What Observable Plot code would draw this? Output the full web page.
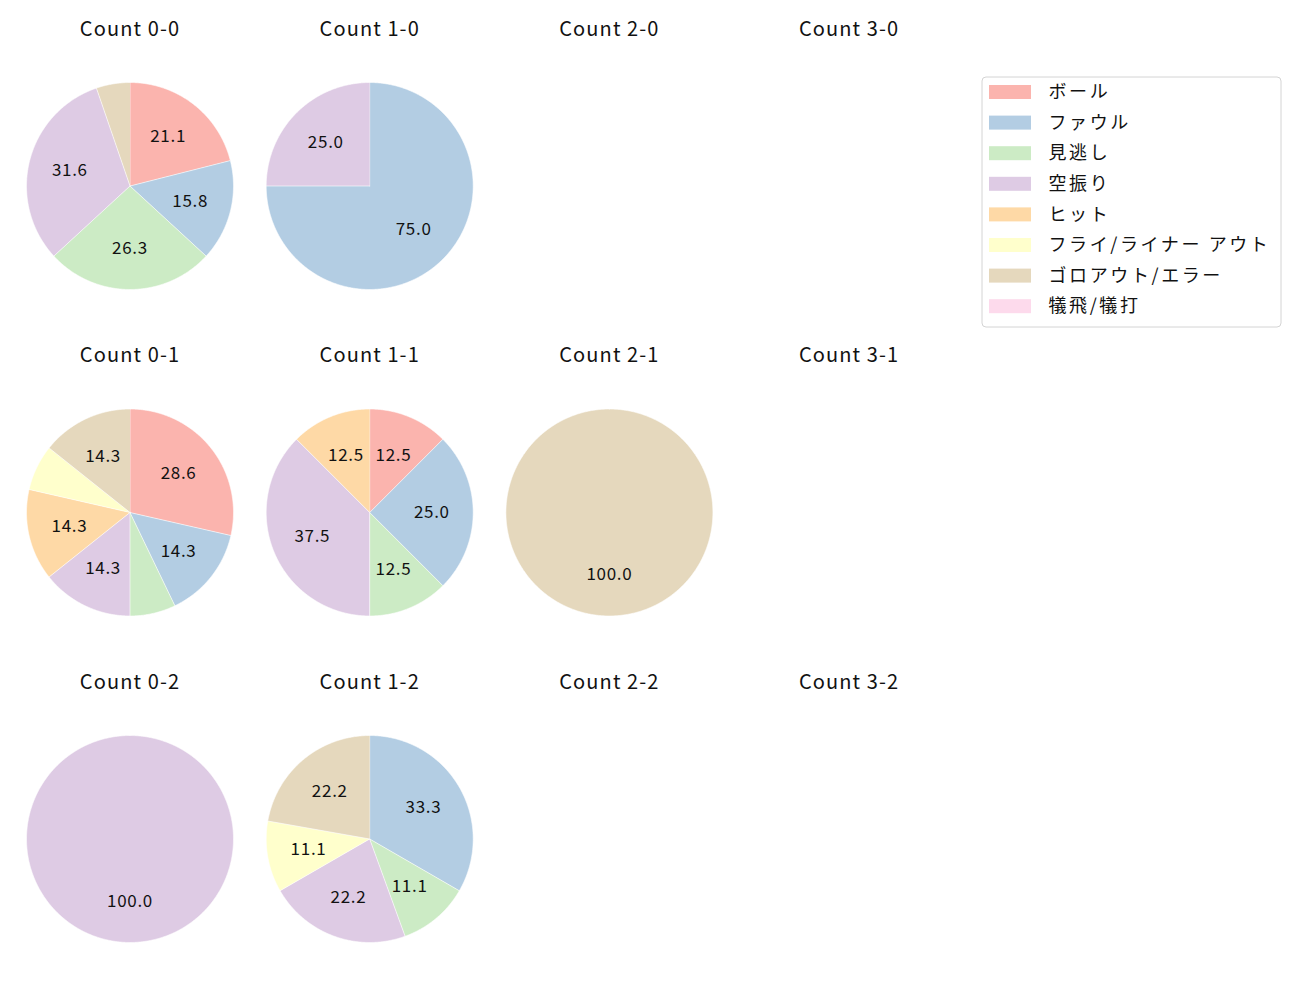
<!DOCTYPE html>
<html>
<head>
<meta charset="utf-8">
<script src="https://cdn.jsdelivr.net/npm/d3@7"></script>
<script src="https://cdn.jsdelivr.net/npm/@observablehq/plot@0.6"></script>
<style>
  html, body { margin: 0; padding: 0; background: white; }
</style>
</head>
<body>
<div id="chart"></div>
<script>
// ---- data ----
const categories = ["ボール", "ファウル", "見逃し", "空振り", "ヒット", "フライ/ライナー アウト", "ゴロアウト/エラー", "犠飛/犠打"];
const colors = ["#fbb4ae", "#b3cde3", "#ccebc5", "#decbe4", "#fed9a6", "#ffffcc", "#e5d8bd", "#fddaec"];
const balls = [0, 1, 2, 3];
const strikes = [0, 1, 2];
// pitch counts per category, in category order
const count00 = [4, 3, 5, 6, 0, 0, 1, 0];
const count10 = [0, 3, 0, 1, 0, 0, 0, 0];
const count20 = [];
const count30 = [];
const count01 = [4, 2, 1, 2, 2, 1, 2, 0];
const count11 = [1, 2, 1, 3, 1, 0, 0, 0];
const count21 = [0, 0, 0, 0, 0, 0, 1, 0];
const count31 = [];
const count02 = [0, 0, 0, 1, 0, 0, 0, 0];
const count12 = [0, 3, 1, 2, 0, 1, 2, 0];
const count22 = [];
const count32 = [];
const countData = {
  "0-0": count00, "1-0": count10, "2-0": count20, "3-0": count30,
  "0-1": count01, "1-1": count11, "2-1": count21, "3-1": count31,
  "0-2": count02, "1-2": count12, "2-2": count22, "3-2": count32
};

// ---- layout ----
const W = 1300, H = 1000;
const cx0 = 129.5, dx = 239.7, cy0 = 185.5, dy = 326.5, R = 103.5;
const titleOffset = 156.5;

const wedgePts = [];
const labels = [];
const titles = [];
let wid = 0;
strikes.forEach((s, r) => {
  balls.forEach((b, c) => {
    const key = `${b}-${s}`;
    const cx = cx0 + c * dx, cy = cy0 + r * dy;
    titles.push({x: cx, y: cy - titleOffset, text: `Count ${key}`});
    const vals = countData[key];
    const total = d3.sum(vals);
    if (!total) return;
    const arcs = d3.pie().sort(null).value(d => d)(vals);
    arcs.forEach((a, i) => {
      if (a.value <= 0) return;
      const span = a.endAngle - a.startAngle;
      const full = span > 2 * Math.PI - 1e-6;
      const id = wid++;
      if (!full) wedgePts.push({id, cat: categories[i], x: cx, y: cy});
      const n = Math.max(2, Math.ceil(span / (Math.PI / 360)));
      for (let k = 0; k <= n; k++) {
        const ang = a.startAngle + span * k / n;
        wedgePts.push({id, cat: categories[i], x: cx + R * Math.sin(ang), y: cy - R * Math.cos(ang)});
      }
      const pct = a.value / total * 100;
      if (pct >= 10) {
        const mid = (a.startAngle + a.endAngle) / 2;
        labels.push({x: cx + 0.6 * R * Math.sin(mid), y: cy - 0.6 * R * Math.cos(mid), text: pct.toFixed(1)});
      }
    });
  });
});

const legendRows = categories.map((cat, i) => ({cat, i, yc: 92 + i * 30.6}));

const chart = Plot.plot({
  width: W,
  height: H,
  margin: 0,
  x: {domain: [0, W], range: [0, W], axis: null},
  y: {domain: [0, H], range: [0, H], axis: null},
  color: {type: "ordinal", domain: categories, range: colors},
  style: {fontFamily: "'Noto Sans CJK JP', 'Noto Sans', sans-serif", background: "white", color: "black"},
  marks: [
    Plot.line(wedgePts, {x: "x", y: "y", z: "id", fill: "cat", stroke: "white", strokeWidth: 0.6, curve: "linear"}),
    Plot.text(labels, {x: "x", y: "y", text: "text", fontSize: 17, fill: "#111"}),
    Plot.text(titles, {x: "x", y: "y", text: "text", fontSize: 20, fill: "#111"}),
    Plot.rect([0], {x1: 982, x2: 1281, y1: 77, y2: 327, fill: "white", stroke: "#d4d4d4", rx: 4}),
    Plot.rect(legendRows, {x1: 989, x2: 1031, y1: d => d.yc - 7, y2: d => d.yc + 7, fill: "cat"}),
    Plot.text(legendRows, {x: 1048, y: "yc", text: "cat", textAnchor: "start", fontSize: 18, fill: "#111"})
  ]
});
// widen letter spacing to match the reference font metrics
d3.select(chart).selectAll("text").each(function() {
  const t = this.textContent;
  let ls = 0.7;
  if (t.startsWith("Count")) ls = 1.1;
  else if (categories.includes(t)) ls = 2.6;
  this.setAttribute("letter-spacing", ls);
  this.style.letterSpacing = ls + "px";
});
document.getElementById("chart").appendChild(chart);
</script>
</body>
</html>
